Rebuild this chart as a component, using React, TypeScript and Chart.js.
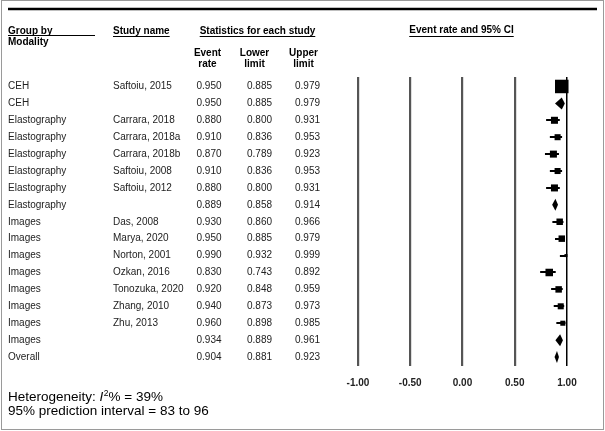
import React, { useEffect, useRef } from "react";
import { Chart, registerables } from "chart.js";

Chart.register(...registerables);

// ---- data ----
const groups = [
  "CEH", "CEH",
  "Elastography", "Elastography", "Elastography", "Elastography", "Elastography", "Elastography",
  "Images", "Images", "Images", "Images", "Images", "Images", "Images", "Images",
  "Overall",
];
const studies = [
  "Saftoiu, 2015", "",
  "Carrara, 2018", "Carrara, 2018a", "Carrara, 2018b", "Saftoiu, 2008", "Saftoiu, 2012", "",
  "Das, 2008", "Marya, 2020", "Norton, 2001", "Ozkan, 2016", "Tonozuka, 2020", "Zhang, 2010", "Zhu, 2013", "",
  "",
];
const eventRate = [0.950, 0.950, 0.880, 0.910, 0.870, 0.910, 0.880, 0.889, 0.930, 0.950, 0.990, 0.830, 0.920, 0.940, 0.960, 0.934, 0.904];
const lowerLimit = [0.885, 0.885, 0.800, 0.836, 0.789, 0.836, 0.800, 0.858, 0.860, 0.885, 0.932, 0.743, 0.848, 0.873, 0.898, 0.889, 0.881];
const upperLimit = [0.979, 0.979, 0.931, 0.953, 0.923, 0.953, 0.931, 0.914, 0.966, 0.979, 0.999, 0.892, 0.959, 0.973, 0.985, 0.961, 0.923];
const isSummary = [false, true, false, false, false, false, false, true, false, false, false, false, false, false, false, true, true];
// relative weights (%) of individual studies (summary rows: 0)
const weights = [100, 0, 27, 20, 27, 20, 27, 0, 23, 23, 5, 31, 23, 20, 14, 0, 0];
const xTicks = [-1, -0.5, 0, 0.5, 1];
const heterogeneityI2 = 39;
const predictionInterval = [83, 96];

const FONT = '"Liberation Sans", Arial, Helvetica, sans-serif';
const MAX_SIDE = 13.5;

const fmt3 = (v: number) => v.toFixed(3);

const forestPlugin = {
  id: "forest",
  beforeDatasetsDraw(chart: any) {
    const { ctx, scales } = chart;
    const x = scales.x;
    const y = scales.y;
    ctx.save();
    // whiskers
    ctx.strokeStyle = "#000";
    ctx.lineWidth = 2;
    eventRate.forEach((_v, i) => {
      if (isSummary[i]) return;
      const py = Math.round(y.getPixelForValue(i));
      ctx.beginPath();
      ctx.moveTo(x.getPixelForValue(lowerLimit[i]), py);
      ctx.lineTo(x.getPixelForValue(upperLimit[i]), py);
      ctx.stroke();
    });
    // diamonds
    ctx.fillStyle = "#000";
    eventRate.forEach((v, i) => {
      if (!isSummary[i]) return;
      const py = y.getPixelForValue(i);
      const h = 6;
      ctx.beginPath();
      ctx.moveTo(x.getPixelForValue(lowerLimit[i]), py);
      ctx.lineTo(x.getPixelForValue(v), py - h);
      ctx.lineTo(x.getPixelForValue(upperLimit[i]), py);
      ctx.lineTo(x.getPixelForValue(v), py + h);
      ctx.closePath();
      ctx.fill();
    });
    ctx.restore();
  },
  afterDraw(chart: any) {
    const { ctx, scales } = chart;
    const y = scales.y;
    ctx.save();
    // frame
    ctx.strokeStyle = "#9a9a9a";
    ctx.lineWidth = 1;
    ctx.strokeRect(1.5, 0.5, 602, 429);
    // top rule
    ctx.strokeStyle = "#000";
    ctx.lineWidth = 2.5;
    ctx.beginPath();
    ctx.moveTo(8, 9);
    ctx.lineTo(597, 9);
    ctx.stroke();

    // headers
    ctx.fillStyle = "#000";
    ctx.textBaseline = "middle";
    ctx.font = `bold 10px ${FONT}`;
    const underline = (x0: number, x1: number, yy: number) => {
      ctx.lineWidth = 1;
      ctx.beginPath();
      ctx.moveTo(x0, yy + 0.5);
      ctx.lineTo(x1, yy + 0.5);
      ctx.stroke();
    };
    ctx.textAlign = "left";
    ctx.fillText("Group by", 8, 31);
    ctx.fillText("Modality", 8, 42.5);
    underline(8, 95, 35);
    ctx.fillText("Study name", 113, 31);
    underline(113, 113 + ctx.measureText("Study name").width, 36);
    ctx.textAlign = "center";
    const st = "Statistics for each study";
    ctx.fillText(st, 257.5, 31);
    const stw = ctx.measureText(st).width;
    underline(257.5 - stw / 2, 257.5 + stw / 2, 36);
    const ci = "Event rate and 95% CI";
    ctx.fillText(ci, 461.5, 30);
    const ciw = ctx.measureText(ci).width;
    underline(461.5 - ciw / 2, 461.5 + ciw / 2, 36);
    ctx.fillText("Event", 207.5, 53);
    ctx.fillText("rate", 207.5, 64);
    ctx.fillText("Lower", 254.5, 53);
    ctx.fillText("limit", 254.5, 64);
    ctx.fillText("Upper", 303.5, 53);
    ctx.fillText("limit", 303.5, 64);

    // rows
    ctx.font = `10px ${FONT}`;
    ctx.fillStyle = "#222";
    eventRate.forEach((v, i) => {
      const py = y.getPixelForValue(i);
      ctx.textAlign = "left";
      ctx.fillText(groups[i], 8, py);
      if (studies[i]) ctx.fillText(studies[i], 113, py);
      ctx.textAlign = "right";
      ctx.fillText(fmt3(v), 221.5, py);
      ctx.fillText(fmt3(lowerLimit[i]), 272, py);
      ctx.fillText(fmt3(upperLimit[i]), 320, py);
    });

    // heterogeneity
    ctx.fillStyle = "#000";
    ctx.textAlign = "left";
    ctx.textBaseline = "alphabetic";
    const base1 = 401;
    let cx = 8;
    ctx.font = `13.5px ${FONT}`;
    const p1 = "Heterogeneity: ";
    ctx.fillText(p1, cx, base1);
    cx += ctx.measureText(p1).width;
    ctx.font = `italic 13.5px ${FONT}`;
    ctx.fillText("I", cx, base1);
    cx += ctx.measureText("I").width + 0.5;
    ctx.font = `8.5px ${FONT}`;
    ctx.fillText("2", cx, base1 - 5);
    cx += ctx.measureText("2").width;
    ctx.font = `13.5px ${FONT}`;
    ctx.fillText(`% = ${heterogeneityI2}%`, cx, base1);
    ctx.fillText(
      `95% prediction interval = ${predictionInterval[0]} to ${predictionInterval[1]}`,
      8,
      415
    );
    ctx.restore();
  },
};

export default function App() {
  const ref = useRef<HTMLCanvasElement | null>(null);
  useEffect(() => {
    if (!ref.current) return;
    const idx = eventRate.map((_v, i) => i).filter((i) => !isSummary[i]);
    const chart = new Chart(ref.current, {
      type: "scatter",
      data: {
        datasets: [
          {
            data: idx.map((i) => ({ x: eventRate[i], y: i })),
            pointStyle: "rect",
            pointRadius: idx.map((i) => (MAX_SIDE * Math.sqrt(weights[i] / 100)) / Math.SQRT2),
            pointHoverRadius: idx.map((i) => (MAX_SIDE * Math.sqrt(weights[i] / 100)) / Math.SQRT2),
            backgroundColor: "#000",
            borderWidth: 0,
            clip: false as any,
          } as any,
        ],
      },
      options: {
        responsive: false,
        animation: false,
        devicePixelRatio: 1,
        layout: { padding: { left: 358, right: 38, top: 77, bottom: 0 } },
        plugins: { legend: { display: false }, tooltip: { enabled: false } },
        events: [],
        scales: {
          x: {
            type: "linear",
            min: -1,
            max: 1,
            afterBuildTicks: (scale: any) => {
              scale.ticks = xTicks.map((v) => ({ value: v }));
            },
            afterFit: (scale: any) => {
              scale.height = 65;
            },
            border: { display: false },
            grid: {
              drawTicks: false,
              color: (c: any) => (c.tick && c.tick.value === 1 ? "#000" : "#555"),
              lineWidth: (c: any) => (c.tick && c.tick.value === 1 ? 1.5 : 2.2),
            },
            ticks: {
              padding: 11,
              color: "#222",
              font: { family: FONT, size: 10, weight: "bold" },
              callback: (v: any) => Number(v).toFixed(2),
              maxRotation: 0,
            },
          },
          y: {
            type: "linear",
            display: false,
            reverse: true,
            min: -0.56,
            max: 16.53,
          },
        },
      },
      plugins: [forestPlugin],
    });
    return () => chart.destroy();
  }, []);
  return (
    <div style={{ position: "absolute", left: 0, top: 0, width: 605, height: 431, background: "#fff" }}>
      <canvas ref={ref} width={605} height={431} style={{ display: "block", width: 605, height: 431 }} />
    </div>
  );
}
